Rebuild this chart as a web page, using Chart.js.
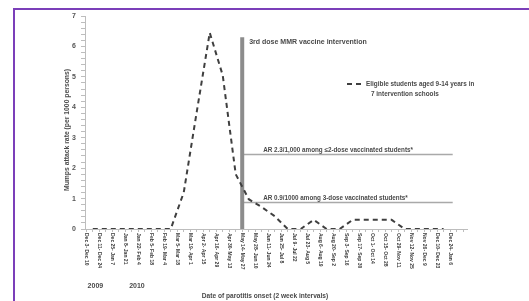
<!DOCTYPE html>
<html>
<head>
<meta charset="utf-8">
<script src="https://cdn.jsdelivr.net/npm/chart.js@4"></script>
<style>
    html, body { margin: 0; padding: 0; background: #fff; }
    #wrap { position: relative; width: 529px; height: 301px; overflow: hidden; }
    #frame { position: absolute; left: 13px; top: 8px; width: 600px; height: 400px;
             border-left: 2px solid #7b3fb9; border-top: 2px solid #7b3fb9; }
    #box { position: absolute; left: 0; top: 0; width: 529px; height: 301px; }
</style>
</head>
<body>
<div id="wrap">
    <div id="frame"></div>
    <div id="box"><canvas id="mumpsChart"></canvas></div>
</div>
<script>
// 2-week onset intervals (tick labels)
const intervals = [
    'Dec 3- Dec 10', 'Dec 11- Dec 24', 'Dec 25- Jan 7', 'Jan 8- Jan 21', 'Jan 22- Feb 4',
    'Feb 5- Feb 18', 'Feb 19- Mar 4', 'Mar 5- Mar 18', 'Mar 19- Apr 1', 'Apr 2- Apr 15',
    'Apr 16- Apr 29', 'Apr 30- May 13', 'May 14- May 27', 'May 28- Jun 10', 'Jun 11- Jun 24',
    'Jun 25- Jul 8', 'Jul 9- Jul 22', 'Jul 23- Aug 5', 'Aug 6- Aug 19', 'Aug 20- Sep 2',
    'Sep 3- Sep 16', 'Sep 17- Sep 30', 'Oct 1- Oct 14', 'Oct 15- Oct 28', 'Oct 29- Nov 11',
    'Nov 12- Nov 25', 'Nov 26- Dec 9', 'Dec 10- Dec 23', 'Dec 24- Jan 6'
];

// Attack rate per 1000, one value per interval (plotted mid-interval)
const attackRate = [
    0, 0, 0, 0, 0, 0, 0, 1.2, 3.85, 6.45,
    5.05, 1.8, 0.98, 0.72, 0.42, 0, 0, 0.3, 0, 0,
    0.3, 0.3, 0.3, 0.3, 0, 0, 0, 0
];

// 3rd dose intervention marker
const interventionAt = 12;
const interventionTop = 6.3;

// attack rate reference lines
const arLevels = [2.45, 0.87];
const arLabels = [
    'AR 2.3/1,000 among \u22642-dose vaccinated students*',
    'AR 0.9/1000 among 3-dose vaccinated students*'
];
const arEnd = 28.2;

const yearLabels = ['2009', '2010'];
const yearPos = [0.7, 3.9];

const yTicks = [0, 1, 2, 3, 4, 5, 6, 7];

const colors = {
    series: '#3f3f3f',
    bar: '#8c8c8c',
    arLine: '#a9a9a9',
    axis: '#bdbdbd',
    text: '#4a4a4a'
};
const FONT = '"Liberation Sans", Arial, sans-serif';

// Text and rotated tick labels
const annotationPlugin = {
    id: 'annotations',
    afterDraw(chart) {
        const ctx = chart.ctx;
        const xs = chart.scales.x;
        const ys = chart.scales.y;
        const base = ys.getPixelForValue(0);
        ctx.save();
        ctx.fillStyle = '#3a3a3a';

        // x labels, rotated to read top-down
        ctx.font = 'bold 5px ' + FONT;
        ctx.textAlign = 'left';
        ctx.textBaseline = 'middle';
        intervals.forEach((lab, i) => {
            const x = xs.getPixelForValue(i);
            ctx.save();
            ctx.translate(x, base + 4);
            ctx.rotate(Math.PI / 2);
            ctx.fillText(lab, 0, 0);
            ctx.restore();
        });

        ctx.fillStyle = colors.text;
        // years
        ctx.font = 'bold 7px ' + FONT;
        ctx.textAlign = 'center';
        yearLabels.forEach((t, i) => {
            ctx.fillText(t, xs.getPixelForValue(yearPos[i]), base + 57);
        });

        // axis titles
        ctx.font = 'bold 6.6px ' + FONT;
        ctx.fillText('Date of parotitis onset (2 week intervals)', 265, 296);
        ctx.save();
        ctx.translate(67, 130);
        ctx.rotate(-Math.PI / 2);
        ctx.font = 'bold 6.8px ' + FONT;
        ctx.fillText('Mumps attack rate (per 1000 persons)', 0, 0);
        ctx.restore();

        // intervention label
        const bx = xs.getPixelForValue(interventionAt);
        ctx.textAlign = 'left';
        ctx.font = 'bold 7px ' + FONT;
        ctx.fillText('3rd dose MMR vaccine intervention', bx + 7, ys.getPixelForValue(6.15));

        // AR labels
        ctx.font = 'bold 6.3px ' + FONT;
        ctx.textBaseline = 'bottom';
        arLevels.forEach((v, i) => {
            ctx.fillText(arLabels[i], bx + 21, ys.getPixelForValue(v) - 1.5);
        });

        // legend
        ctx.textBaseline = 'middle';
        ctx.font = 'bold 6.4px ' + FONT;
        ctx.fillText('Eligible students aged 9-14 years in', 366, 84);
        ctx.fillText('7 intervention schools', 371, 94);
        ctx.strokeStyle = colors.series;
        ctx.lineWidth = 2;
        ctx.setLineDash([5, 4]);
        ctx.beginPath();
        ctx.moveTo(347, 84);
        ctx.lineTo(361, 84);
        ctx.stroke();
        ctx.restore();
    }
};

function initMumpsChart() {
    const ctx = document.getElementById('mumpsChart');

    const ratePoints = attackRate.map((v, i) => ({ x: i + 0.5, y: v }));
    const halfTicks = [];
    for (let i = 0; i <= intervals.length * 2; i++) halfTicks.push({ value: i / 2 });

    new Chart(ctx, {
        type: 'line',
        data: {
            datasets: [{
                data: ratePoints,
                borderColor: colors.series,
                borderWidth: 2,
                borderDash: [5, 4],
                pointRadius: 0,
                tension: 0
            }, {
                data: [{ x: interventionAt, y: 0 }, { x: interventionAt, y: interventionTop }],
                borderColor: colors.bar,
                borderWidth: 4,
                pointRadius: 0
            }, {
                data: [{ x: interventionAt, y: arLevels[0] }, { x: arEnd, y: arLevels[0] }],
                borderColor: colors.arLine,
                borderWidth: 1.5,
                pointRadius: 0
            }, {
                data: [{ x: interventionAt, y: arLevels[1] }, { x: arEnd, y: arLevels[1] }],
                borderColor: colors.arLine,
                borderWidth: 1.5,
                pointRadius: 0
            }]
        },
        options: {
            responsive: true,
            maintainAspectRatio: false,
            animation: false,
            events: [],
            layout: { padding: { top: 16, right: 62, left: 0, bottom: 0 } },
            plugins: {
                legend: { display: false },
                tooltip: { enabled: false }
            },
            scales: {
                x: {
                    type: 'linear',
                    min: -0.1,
                    max: 29.3,
                    afterBuildTicks: (scale) => { scale.ticks = halfTicks; },
                    afterFit: (scale) => { scale.height = 72; },
                    ticks: { display: false },
                    grid: { drawOnChartArea: false, tickLength: 3, color: colors.axis },
                    border: { color: colors.axis, width: 1 }
                },
                y: {
                    min: 0,
                    max: 7,
                    afterBuildTicks: (scale) => {
                        const t = [];
                        for (let i = 0; i <= 35; i++) t.push({ value: i / 5 });
                        scale.ticks = t;
                    },
                    afterFit: (scale) => { scale.width = 85; },
                    ticks: {
                        autoSkip: false,
                        padding: 5,
                        color: '#555',
                        font: { family: FONT, size: 7, weight: 'bold' },
                        callback: function(value) {
                            const r = Math.round(value);
                            return (Math.abs(value - r) < 1e-6 && yTicks.includes(r)) ? String(r) : '';
                        }
                    },
                    grid: { drawOnChartArea: false, tickLength: 4, color: colors.axis },
                    border: { color: colors.axis, width: 1 }
                }
            }
        },
        plugins: [annotationPlugin]
    });
}

document.addEventListener('DOMContentLoaded', initMumpsChart);
</script>
</body>
</html>
